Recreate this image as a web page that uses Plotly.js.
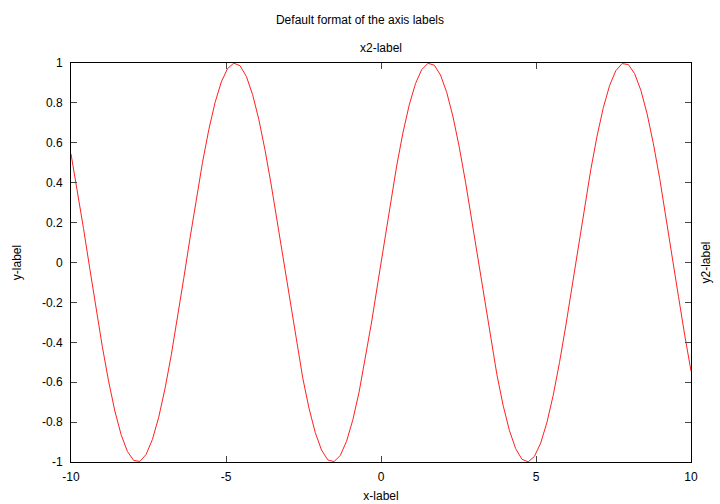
<!DOCTYPE html>
<html>
<head>
<meta charset="utf-8">
<script src="https://cdn.plot.ly/plotly-3.0.1.min.js"></script>
<style>html,body{margin:0;padding:0;background:#fff}#chart{width:720px;height:504px}</style>
</head>
<body>
<div id="chart"></div>
<script>
const xValues = [
-10.0000,-9.7980,-9.5960,-9.3939,-9.1919,-8.9899,-8.7879,-8.5859,-8.3838,-8.1818,
-7.9798,-7.7778,-7.5758,-7.3737,-7.1717,-6.9697,-6.7677,-6.5657,-6.3636,-6.1616,
-5.9596,-5.7576,-5.5556,-5.3535,-5.1515,-4.9495,-4.7475,-4.5455,-4.3434,-4.1414,
-3.9394,-3.7374,-3.5354,-3.3333,-3.1313,-2.9293,-2.7273,-2.5253,-2.3232,-2.1212,
-1.9192,-1.7172,-1.5152,-1.3131,-1.1111,-0.9091,-0.7071,-0.5051,-0.3030,-0.1010,
0.1010,0.3030,0.5051,0.7071,0.9091,1.1111,1.3131,1.5152,1.7172,1.9192,
2.1212,2.3232,2.5253,2.7273,2.9293,3.1313,3.3333,3.5354,3.7374,3.9394,
4.1414,4.3434,4.5455,4.7475,4.9495,5.1515,5.3535,5.5556,5.7576,5.9596,
6.1616,6.3636,6.5657,6.7677,6.9697,7.1717,7.3737,7.5758,7.7778,7.9798,
8.1818,8.3838,8.5859,8.7879,8.9899,9.1919,9.3939,9.5960,9.7980,10.0000];
const yValues = [
0.5440,0.3646,0.1703,-0.0308,-0.2308,-0.4213,-0.5947,-0.7440,-0.8628,-0.9466,
-0.9921,-0.9971,-0.9617,-0.8869,-0.7762,-0.6339,-0.4658,-0.2787,-0.0804,0.1213,
0.3180,0.5017,0.6651,0.8013,0.9050,0.9720,0.9994,0.9861,0.9328,0.8414,
0.7158,0.5612,0.3837,0.1906,-0.0103,-0.2107,-0.4025,-0.5781,-0.7300,-0.8522,
-0.9399,-0.9893,-0.9984,-0.9670,-0.8960,-0.7887,-0.6496,-0.4839,-0.2984,-0.1008,
0.1008,0.2984,0.4839,0.6496,0.7887,0.8960,0.9670,0.9984,0.9893,0.9399,
0.8522,0.7300,0.5781,0.4025,0.2107,0.0103,-0.1906,-0.3837,-0.5612,-0.7158,
-0.8414,-0.9328,-0.9861,-0.9994,-0.9720,-0.9050,-0.8013,-0.6651,-0.5017,-0.3180,
-0.1213,0.0804,0.2787,0.4658,0.6339,0.7762,0.8869,0.9617,0.9971,0.9921,
0.9466,0.8628,0.7440,0.5947,0.4213,0.2308,0.0308,-0.1703,-0.3646,-0.5440];
const xTickVals = [-10,-5,0,5,10];
const xTickText = ["-10","-5","0","5","10"];
const yTickVals = [-1,-0.8,-0.6,-0.4,-0.2,0,0.2,0.4,0.6,0.8,1];
const yTickText = ["-1","-0.8","-0.6","-0.4","-0.2","0","0.2","0.4","0.6","0.8","1"];
const titleText = "Default format of the axis labels";
const xLabel = "x-label", yLabel = "y-label", x2Label = "x2-label", y2Label = "y2-label";

const font = {family: "Liberation Sans, Arial, sans-serif", size: 12, color: "#000"};
const trace = {x: xValues, y: yValues, type: "scatter", mode: "lines",
  line: {color: "#ff2020", width: 1}, hoverinfo: "skip", showlegend: false};
const axisCommon = {showgrid: false, zeroline: false, showline: true, linecolor: "#000", linewidth: 1,
  ticks: "inside", ticklen: 6, tickcolor: "#444", tickwidth: 1, mirror: "ticks", tickfont: font};
const layout = {
  width: 720, height: 504,
  margin: {l: 71, r: 29, t: 63, b: 42, pad: 0},
  paper_bgcolor: "#fff", plot_bgcolor: "#fff",
  font: font,
  title: {text: titleText, font: font, x: 0.5, xanchor: "center", y: 1 - 20/504, yanchor: "middle", yref: "container"},
  xaxis: Object.assign({}, axisCommon, {range: [-10, 10], tickvals: xTickVals, ticktext: xTickText,
    ticklabelstandoff: 4, title: {text: xLabel, font: font, standoff: 8}}),
  yaxis: Object.assign({}, axisCommon, {range: [-1, 1], tickvals: yTickVals, ticktext: yTickText,
    ticklabelstandoff: 5, title: {text: yLabel, font: font, standoff: 17}}),
  annotations: [
    {text: x2Label, xref: "paper", yref: "paper", x: 0.5, y: 1, yshift: 15, xanchor: "center", yanchor: "middle", showarrow: false, font: font},
    {text: y2Label, xref: "paper", yref: "paper", x: 1, y: 0.5, xshift: 14, xanchor: "center", yanchor: "middle", textangle: -90, showarrow: false, font: font}
  ]
};
Plotly.newPlot("chart", [trace], layout, {staticPlot: true, displayModeBar: false});
</script>
</body>
</html>
